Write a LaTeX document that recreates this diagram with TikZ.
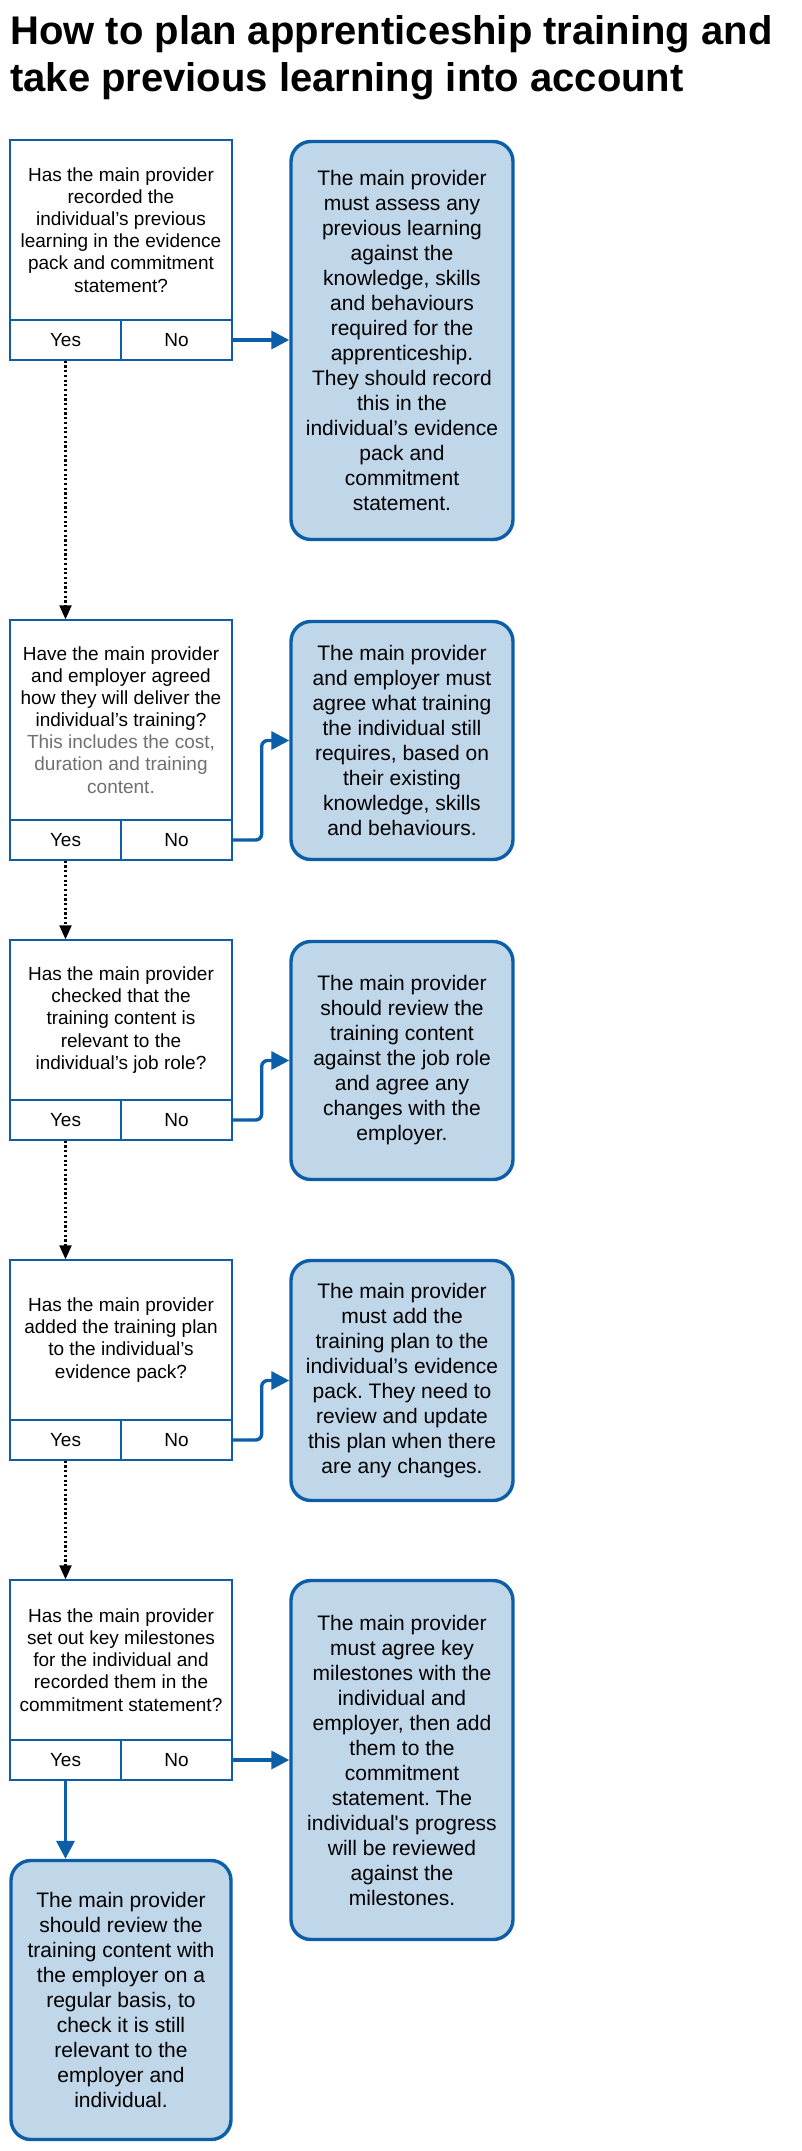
\documentclass[tikz,border=0pt]{standalone}
\usepackage{fontspec}
\setmainfont{Liberation Sans}
\usetikzlibrary{arrows.meta,calc}
\definecolor{bdr}{RGB}{11,94,167}
\definecolor{bfill}{RGB}{192,214,233}
\definecolor{greytxt}{RGB}{112,112,112}
\frenchspacing
\newcommand{\straightapos}{\XeTeXglyph\XeTeXglyphindex "quotesingle" \relax}
\begin{document}
\begin{tikzpicture}[x=1pt,y=-1pt,
 titletext/.style={anchor=base west, inner sep=0pt, font=\fontsize{40}{47}\selectfont\bfseries},
 qbox/.style={draw=bdr, line width=1.4pt, fill=white, minimum width=222pt, inner sep=0pt, align=center, font=\fontsize{19}{22.1}\selectfont},
 ansbox/.style={draw=bdr, line width=1.4pt, fill=white, minimum width=111pt, minimum height=40pt, inner sep=0pt, font=\fontsize{19}{22.1}\selectfont},
 action/.style={draw=bdr, line width=3.4pt, fill=bfill, rounded corners=20pt, minimum width=222pt, inner sep=0pt, align=center, font=\fontsize{21}{25}\selectfont},
 conn/.style={draw=bdr, line width=3.4pt, rounded corners=6pt, -{Triangle[length=18pt,width=18pt]}},
 yesline/.style={draw=black, line width=2.2pt, dash pattern=on 2.2pt off 2.5pt, -{Triangle[length=14pt,width=12pt]}},
]
\useasboundingbox (0,0) rectangle (802,2151);

% title
\node[titletext] (t1) at (10,44.6) {How to plan apprenticeship training and};
\node[titletext] (t2) at (10,92) {take previous learning into account};

% question 1
\node[qbox, minimum height=180pt] (q1) at (121,230) {Has the main provider\\recorded the\\individual’s previous\\learning in the evidence\\pack and commitment\\statement?};
\node[ansbox] (yes1) at (65.5,340) {Yes};
\node[ansbox] (no1) at (176.5,340) {No};
\node[action, minimum height=398pt] (b1) at (402,340.5) {The main provider\\must assess any\\previous learning\\against the\\knowledge, skills\\and behaviours\\required for the\\apprenticeship.\\They should record\\this in the\\individual’s evidence\\pack and\\commitment\\statement.};

% question 2
\node[qbox, minimum height=200pt] (q2) at (121,720) {Have the main provider\\and employer agreed\\how they will deliver the\\individual’s training?\\\textcolor{greytxt}{This includes the cost,}\\\textcolor{greytxt}{duration and training}\\\textcolor{greytxt}{content.}};
\node[ansbox] (yes2) at (65.5,840) {Yes};
\node[ansbox] (no2) at (176.5,840) {No};
\node[action, minimum height=238pt] (b2) at (402,740.5) {The main provider\\and employer must\\agree what training\\the individual still\\requires, based on\\their existing\\knowledge, skills\\and behaviours.};

% question 3
\node[qbox, minimum height=160pt] (q3) at (121,1020) {Has the main provider\\checked that the\\training content is\\relevant to the\\individual’s job role?};
\node[ansbox] (yes3) at (65.5,1120) {Yes};
\node[ansbox] (no3) at (176.5,1120) {No};
\node[action, minimum height=238pt] (b3) at (402,1060.5) {The main provider\\should review the\\training content\\against the job role\\and agree any\\changes with the\\employer.};

% question 4
\node[qbox, minimum height=160pt] (q4) at (121,1340) {Has the main provider\\added the training plan\\to the individual’s\\evidence pack?};
\node[ansbox] (yes4) at (65.5,1440) {Yes};
\node[ansbox] (no4) at (176.5,1440) {No};
\node[action, minimum height=240pt] (b4) at (402,1380.5) {The main provider\\must add the\\training plan to the\\individual’s evidence\\pack. They need to\\review and update\\this plan when there\\are any changes.};

% question 5
\node[qbox, minimum height=160pt] (q5) at (121,1660) {Has the main provider\\set out key milestones\\for the individual and\\recorded them in the\\commitment statement?};
\node[ansbox] (yes5) at (65.5,1760) {Yes};
\node[ansbox] (no5) at (176.5,1760) {No};
\node[action, minimum height=359pt] (b5) at (402,1760) {The main provider\\must agree key\\milestones with the\\individual and\\employer, then add\\them to the\\commitment\\statement. The\\individual\straightapos s progress\\will be reviewed\\against the\\milestones.};

% final
\node[action, minimum width=220pt, minimum height=279pt] (fin) at (121,2000) {The main provider\\should review the\\training content with\\the employer on a\\regular basis, to\\check it is still\\relevant to the\\employer and\\individual.};

% connectors: No
\draw[conn] (no1.east) -- (no1.east -| b1.west);
\draw[conn] (no2.east) -- ++(29,0) |- (b2.west);
\draw[conn] (no3.east) -- ++(29,0) |- (b3.west);
\draw[conn] (no4.east) -- ++(29,0) |- (b4.west);
\draw[conn] (no5.east) -- (no5.east -| b5.west);

% connectors: Yes
\draw[yesline] (yes1.south) -- (yes1.south |- q2.north);
\draw[yesline] (yes2.south) -- (yes2.south |- q3.north);
\draw[yesline] (yes3.south) -- (yes3.south |- q4.north);
\draw[yesline] (yes4.south) -- (yes4.south |- q5.north);
\draw[conn] (yes5.south) -- (yes5.south |- fin.north);
\end{tikzpicture}
\end{document}
